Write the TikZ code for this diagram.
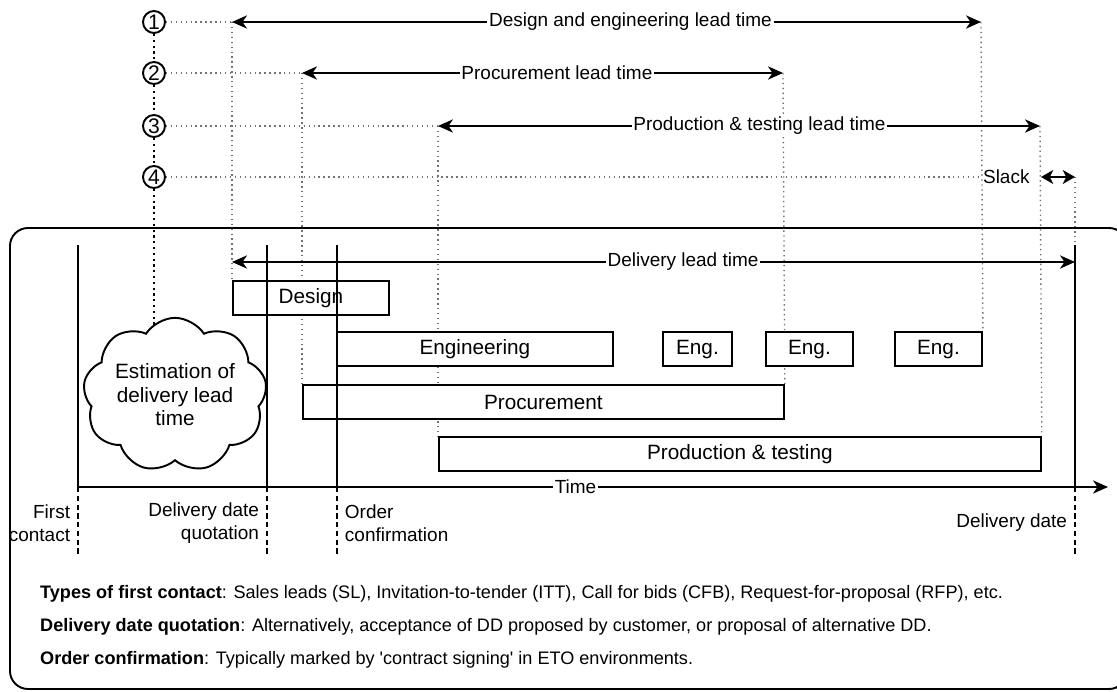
\documentclass[tikz,border=0pt]{standalone}
\usepackage{fontspec}
\setmainfont{Liberation Sans}
\usetikzlibrary{shapes,arrows.meta,positioning,backgrounds}

\begin{document}
\begin{tikzpicture}[
    x=0.02cm, y=-0.02cm,
    every node/.style={font=\fontsize{10.8}{13}\selectfont},
    bar/.style={rectangle, draw, fill=white, line width=1.1pt, anchor=north west, minimum height=0.69cm, inner sep=0pt, font=\fontsize{11.8}{14}\selectfont},
    num/.style={circle, draw, fill=white, line width=1.1pt, minimum size=0.44cm, inner sep=0pt, font=\fontsize{12}{14}\selectfont},
    span/.style={{Stealth[length=8.5pt,width=7.5pt,inset=2.5pt]}-{Stealth[length=8.5pt,width=7.5pt,inset=2.5pt]}, line width=1.1pt},
    arrow/.style={-{Stealth[length=8.5pt,width=7.5pt,inset=2.5pt]}, line width=1.1pt},
    lab/.style={fill=white, inner sep=1pt},
    guide/.style={dotted, line width=0.8pt, black!55},
    chain/.style={dotted, line width=1.3pt},
    milestone/.style={line width=1.1pt},
    tickline/.style={dash pattern=on 3pt off 2pt, line width=1.1pt},
    note/.style={anchor=west, font=\fontsize{10.3}{12}\selectfont}
]
    \useasboundingbox (0,0) rectangle (1117,692);
    \clip (0,0) rectangle (1117,692);

    % frame
    \draw[line width=1.1pt, rounded corners=0.36cm] (10,228) rectangle (1127,689);

    % milestones on the time axis
    \coordinate (fc) at (78,487);
    \coordinate (dq) at (267,487);
    \coordinate (oc) at (337,487);
    \coordinate (dd) at (1075,487);
    \coordinate (tend) at (1108,487);
    \coordinate (top) at (0,245);
    \coordinate (low) at (0,556);
    \coordinate (ddt) at (1075,245);

    % circled numbers
    \node[num] (n1) at (154,22) {1};
    \node[num] (n2) at (154,73) {2};
    \node[num] (n3) at (154,126) {3};
    \node[num] (n4) at (154,177) {4};
    \node[anchor=west, inner sep=1pt] (slack) at (981,177) {Slack};

    % lead time arrows ends
    \coordinate (a1s) at (232,22);
    \coordinate (a1e) at (981,22);
    \coordinate (a2s) at (302,73);
    \coordinate (a2e) at (783,73);
    \coordinate (a3s) at (438,126);
    \coordinate (a3e) at (1040,126);
    \coordinate (sl1) at (1041,177);
    \coordinate (sl2) at (1075,177);
    \coordinate (dls) at (232,262);

    % cloud
    \node[cloud, cloud puffs=9, cloud puff arc=115, aspect=1.3, draw, line width=1.1pt, fill=white, minimum width=3.4cm, minimum height=2.7cm, align=center, inner sep=0pt, font=\fontsize{11.8}{13.4}\selectfont] (est) at (175,395) {Estimation of\\delivery lead\\time};
    \coordinate (esttop) at (154,329);

    % bars
    \node[bar, minimum width=3.12cm] (design) at (232,280) {Design};
    \node[bar, minimum width=5.52cm] (eng) at (336,331) {Engineering};
    \node[bar, minimum width=1.38cm] (eng1) at (662,331) {Eng.};
    \node[bar, minimum width=1.74cm] (eng2) at (765,331) {Eng.};
    \node[bar, minimum width=1.74cm] (eng3) at (894,331) {Eng.};
    \node[bar, minimum width=9.62cm] (proc) at (302,384) {Procurement};
    \node[bar, minimum width=12.04cm] (prod) at (438,436) {Production \& testing};

    % dotted guides
    \begin{scope}[on background layer]
        \draw[chain] (n1) -- (n2) (n2) -- (n3) (n3) -- (n4) (n4) -- (esttop);
        \draw[guide] (n1) -- (a1s) (n2) -- (a2s) (n3) -- (a3s) (n4) -- (slack);
        \draw[guide] (a1s) -- (design.north west);
        \draw[guide] (a1e) -- (eng3.north east);
        \draw[guide] (a2s) -- (proc.north west);
        \draw[guide] (a2e) -- (proc.north east);
        \draw[guide] (a3s) -- (prod.north west);
        \draw[guide] (a3e) -- (prod.north east);
        \draw[guide] (sl2) -- (ddt);
    \end{scope}

    % milestone lines
    \draw[milestone] (fc |- top) -- (fc);
    \draw[milestone] (dq |- top) -- (dq);
    \draw[milestone] (oc |- top) -- (oc);
    \draw[milestone] (ddt) -- (dd);
    \draw[tickline] (fc) -- (fc |- low);
    \draw[tickline] (dq) -- (dq |- low);
    \draw[tickline] (oc) -- (oc |- low);
    \draw[tickline] (dd) -- (dd |- low);

    % lead times
    \draw[span] (a1s) -- (a1e) node[lab, pos=0.532] {Design and engineering lead time};
    \draw[span] (a2s) -- (a2e) node[lab, pos=0.53] {Procurement lead time};
    \draw[span] (a3s) -- (a3e) node[lab, pos=0.534] {Production \& testing lead time};
    \draw[{Stealth[length=7pt,width=8pt,inset=2pt]}-{Stealth[length=7pt,width=8pt,inset=2pt]}, line width=1.1pt] (sl1) -- (sl2);
    \draw[span] (dls) -- (ddt |- dls) node[lab, pos=0.535] {Delivery lead time};
    \draw[arrow] (fc) -- (tend) node[lab, pos=0.483] {Time};

    % milestone labels
    \coordinate (fcm) at (78,523);
    \coordinate (dqm) at (267,523);
    \coordinate (ocm) at (337,523);
    \coordinate (ddm) at (1075,523);
    \node[align=right, left=1pt of fcm] (fclab) {First\\contact};
    \node[align=right, left=1pt of dqm] (dqlab) {Delivery date\\quotation};
    \node[align=left, right=1pt of ocm] (oclab) {Order\\confirmation};
    \node[left=1pt of ddm] (ddlab) {Delivery date};

    % notes
    \node[note] (t1) at (34,594) {\textbf{Types of first contact}: Sales leads (SL), Invitation-to-tender (ITT), Call for bids (CFB), Request-for-proposal (RFP), etc.};
    \node[note] (t2) at (34,627) {\textbf{Delivery date quotation}: Alternatively, acceptance of DD proposed by customer, or proposal of alternative DD.};
    \node[note] (t3) at (34,660) {\textbf{Order confirmation}: Typically marked by \textquotesingle contract signing\textquotesingle{} in ETO environments.};
\end{tikzpicture}
\end{document}
